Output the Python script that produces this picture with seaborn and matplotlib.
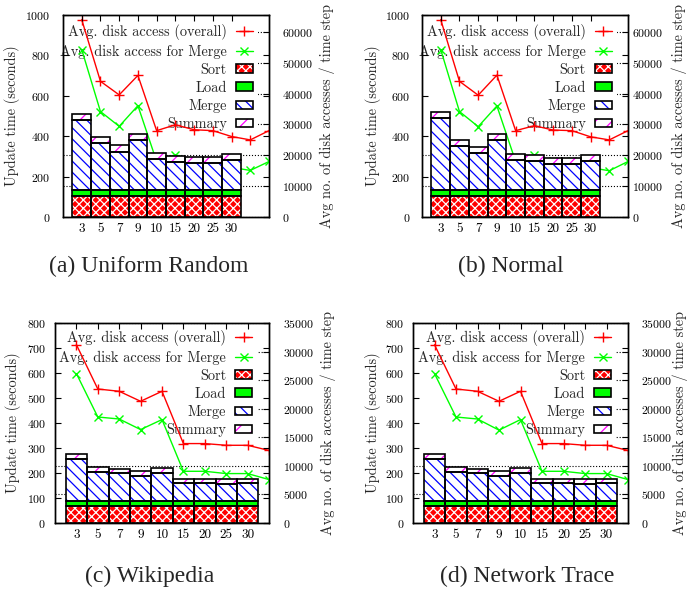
import numpy as np
import matplotlib
matplotlib.use('Agg')
import matplotlib.pyplot as plt
import matplotlib.patches as mpatches
import matplotlib.transforms as mtransforms
import seaborn as sns

sns.set_theme(style='white')
plt.rcParams['font.family'] = ['cmr10', 'DejaVu Serif']
plt.rcParams['axes.unicode_minus'] = False
plt.rcParams['axes.formatter.use_mathtext'] = True
plt.rcParams['hatch.linewidth'] = 0.9

# x categories shared by all four panels
x_labels = ['3', '5', '7', '9', '10', '15', '20', '25', '30']
legend_labels = ['Avg. disk access (overall)', 'Avg. disk access for Merge',
                 'Sort', 'Load', 'Merge', 'Summary']

# (a) Uniform Random
uniform_sort = [105, 105, 106, 105, 106, 105, 105, 105, 105]
uniform_load = [28, 28, 28, 29, 28, 28, 28, 28, 28]
uniform_merge = [347, 235, 190, 248, 152, 139, 136, 136, 149]
uniform_summary = [28, 30, 30, 28, 30, 30, 26, 26, 28]
uniform_overall = [64000, 44000, 39600, 45900, 28000, 29900, 28300, 28000, 26100, 25000, 28000]
uniform_merge_io = [54300, 34200, 29400, 36100, 18000, 20200, 18300, 18000, 16100, 15100, 18000]

# (b) Normal
normal_sort = [105, 105, 105, 105, 105, 105, 105, 105, 105]
normal_load = [28, 28, 28, 28, 28, 28, 28, 28, 28]
normal_merge = [357, 218, 184, 248, 149, 145, 130, 130, 145]
normal_summary = [30, 30, 30, 30, 30, 29, 29, 29, 29]
normal_overall = [64000, 44000, 39500, 46000, 28000, 29600, 28200, 28000, 26000, 25000, 28000]
normal_merge_io = [54300, 34200, 29300, 36000, 18000, 20000, 18200, 18000, 16000, 15000, 18000]

# (c) Wikipedia
wiki_sort = [69, 69, 69, 69, 69, 69, 69, 69, 69]
wiki_load = [19, 19, 19, 19, 19, 19, 19, 19, 19]
wiki_merge = [168, 116, 113, 100, 111, 71, 71, 69, 71]
wiki_summary = [19, 21, 16, 20, 22, 18, 18, 18, 18]
wiki_overall = [31200, 23450, 23050, 21300, 23050, 13900, 13900, 13600, 13600, 12700]
wiki_merge_io = [26150, 18550, 18200, 16350, 18100, 9050, 9050, 8650, 8650, 7600]

# (d) Network Trace
net_sort = [69, 69, 69, 69, 69, 69, 69, 69, 69]
net_load = [19, 19, 19, 19, 19, 19, 19, 19, 19]
net_merge = [168, 116, 113, 100, 111, 71, 71, 69, 71]
net_summary = [19, 21, 16, 20, 22, 18, 18, 18, 18]
net_overall = [31200, 23450, 23050, 21300, 23050, 13900, 13900, 13600, 13600, 12700]
net_merge_io = [26150, 18550, 18200, 16250, 18100, 9050, 9050, 8650, 8650, 7600]

panels = [
    dict(sort=uniform_sort, load=uniform_load, merge=uniform_merge, summary=uniform_summary,
         overall=uniform_overall, merge_io=uniform_merge_io, caption='(a) Uniform Random'),
    dict(sort=normal_sort, load=normal_load, merge=normal_merge, summary=normal_summary,
         overall=normal_overall, merge_io=normal_merge_io, caption='(b) Normal'),
    dict(sort=wiki_sort, load=wiki_load, merge=wiki_merge, summary=wiki_summary,
         overall=wiki_overall, merge_io=wiki_merge_io, caption='(c) Wikipedia'),
    dict(sort=net_sort, load=net_load, merge=net_merge, summary=net_summary,
         overall=net_overall, merge_io=net_merge_io, caption='(d) Network Trace'),
]

# layout in pixels: axes box, label x positions, tick pads, caption position, axis ranges
W, H = 689, 591
layout = [
    dict(box=(63, 15, 269, 217), lx=12, rx=327, lpad=9, rpad=9.4, cap=(149, 266), legy=0.98,
         ymax=1000, ystep=200, y2max=65500, y2step=10000),
    dict(box=(422, 15, 628, 217), lx=373, rx=679, lpad=8.5, rpad=3, cap=(511, 266), legy=0.98,
         ymax=1000, ystep=200, y2max=65500, y2step=10000),
    dict(box=(55, 323, 269, 523), lx=13, rx=328, lpad=6.5, rpad=10, cap=(150, 576), legy=0.99,
         ymax=800, ystep=100, y2max=35000, y2step=5000),
    dict(box=(413, 323, 628, 523), lx=373, rx=680, lpad=6, rpad=9.4, cap=(527, 576), legy=0.99,
         ymax=800, ystep=100, y2max=35000, y2step=5000),
]

RED, GREEN, BLUE, MAGENTA = '#ff0000', '#00ff00', '#0000ff', '#ff00ff'
segments = [('sort', RED, 'xxxx', 'white'),
            ('load', GREEN, None, GREEN),
            ('merge', 'white', '\\\\\\', BLUE),
            ('summary', 'white', '//', MAGENTA)]

fig = plt.figure(figsize=(W / 100, H / 100), dpi=100)

for d, lay in zip(panels, layout):
    x0, y0, x1, y1 = lay['box']
    ax = fig.add_axes([x0 / W, 1 - y1 / H, (x1 - x0) / W, (y1 - y0) / H])
    ax2 = ax.twinx()
    ax.set_zorder(ax2.get_zorder() + 1)
    ax.patch.set_visible(False)

    # stacked bars
    xb = np.arange(len(x_labels))
    bottom = np.zeros(len(x_labels))
    bar_handles = []
    for key, face, hatch, hcol in segments:
        vals = np.array(d[key], dtype=float)
        ax.bar(xb, vals, bottom=bottom, width=1.0, color=face, edgecolor=hcol,
               hatch=hatch, linewidth=0, zorder=2)
        ax.bar(xb, vals, bottom=bottom, width=1.0, fill=False, edgecolor='black',
               linewidth=1.2, zorder=2.1)
        bottom += vals
        bar_handles.append((mpatches.Patch(facecolor=face, edgecolor=hcol, hatch=hatch, linewidth=0),
                            mpatches.Patch(fill=False, edgecolor='black', linewidth=1.2)))

    # disk access lines on the right axis
    xl = np.arange(len(d['overall']))
    sns.lineplot(x=xl, y=d['overall'], ax=ax2, color=RED, marker='+', markersize=7,
                 markeredgewidth=1, markeredgecolor=RED, linewidth=1, legend=False, zorder=3)
    sns.lineplot(x=xl, y=d['merge_io'], ax=ax2, color=GREEN, marker='x', markersize=5.5,
                 markeredgewidth=1, markeredgecolor=GREEN, linewidth=1, legend=False, zorder=3)

    ax.set_xlim(-1, len(xl) - 1)
    ax.set_ylim(0, lay['ymax'])
    ax.set_yticks(np.arange(0, lay['ymax'] + 1, lay['ystep']))
    ax2.set_ylim(0, lay['y2max'])
    ax2.set_yticks(np.arange(0, lay['y2max'] + 1, lay['y2step']))
    ax.set_xticks(xb, x_labels)
    ax.set_axisbelow(True)
    ax2.set_axisbelow(True)

    ax.tick_params(axis='x', direction='in', top=True, bottom=True, length=4, width=0.8,
                   labelsize=9.5, pad=4, colors='black')
    ax.tick_params(axis='y', direction='in', left=True, right=True, length=4, width=0.8,
                   labelsize=8.5, pad=lay['lpad'], colors='black')
    ax2.tick_params(axis='y', direction='in', right=True, left=False, length=4, width=0.8,
                    labelsize=8.5, pad=lay['rpad'], colors='black')
    ax.grid(False)
    ax2.xaxis.grid(False)
    ax2.yaxis.grid(True, linestyle=':', color='black', linewidth=0.8)
    for a in (ax, ax2):
        for s in a.spines.values():
            s.set_color('black')
            s.set_linewidth(1.0)

    ax.set_ylabel('Update time (seconds)', fontsize=10.3)
    ax2.set_ylabel('Avg no. of disk accesses / time step', fontsize=10.3)
    tr = mtransforms.blended_transform_factory(fig.transFigure, ax.transAxes)
    ax.yaxis.label.set_va('center')
    ax2.yaxis.label.set_va('center')
    ax.yaxis.set_label_coords(lay['lx'] / W, 0.5, transform=tr)
    ax2.yaxis.set_label_coords(lay['rx'] / W, 0.5, transform=tr)

    handles = [ax2.lines[0], ax2.lines[1]] + bar_handles
    leg = ax2.legend(handles, legend_labels, loc='upper right', bbox_to_anchor=(0.945, lay['legy']),
                     markerfirst=False, fontsize=10.3, handlelength=1.17, handleheight=0.5,
                     handletextpad=0.65, labelspacing=0.3, borderpad=0.35, borderaxespad=0,
                     frameon=True, fancybox=False, framealpha=1, facecolor='white',
                     edgecolor='white')
    leg.get_frame().set_linewidth(0)
    leg.set_zorder(1)

    cx, cy = lay['cap']
    fig.text(cx / W, 1 - cy / H, d['caption'], ha='center', va='center',
             family='Liberation Serif', fontsize=17)

fig.savefig('out.png', dpi=100)
